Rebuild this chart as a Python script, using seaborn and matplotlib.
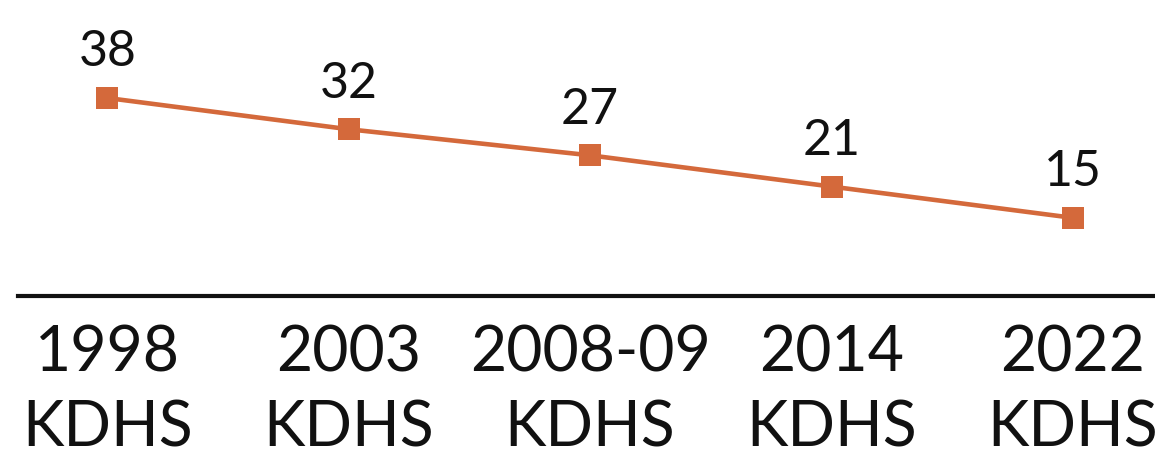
import matplotlib
matplotlib.use("Agg")
import matplotlib.pyplot as plt
import seaborn as sns
import pandas as pd

surveys = ["1998\nKDHS", "2003\nKDHS", "2008-09\nKDHS", "2014\nKDHS", "2022\nKDHS"]
values = [38, 32, 27, 21, 15]

sns.set_theme(style="white")
plt.rcParams['font.family'] = ['Lato', 'DejaVu Sans']

df = pd.DataFrame({"survey": surveys, "value": values})
df["pos"] = range(len(df))

fig = plt.figure(figsize=(11.55, 4.64), dpi=100)
ax = fig.add_axes([18 / 1155, 167 / 464, 1 - 18 / 1155, 297 / 464])

color = "#D4693B"
sns.lineplot(data=df, x="pos", y="value", ax=ax, color=color, linewidth=3.3,
             marker="s", markersize=16, markeredgewidth=0, sort=False)

for x, v in zip(df["pos"], df["value"]):
    ax.annotate(str(v), (x, v), xytext=(0, 17), textcoords="offset points",
                ha="center", va="bottom", fontsize=36, color="#111111")

ax.set_ylim(0, 57)
ax.set_xlim(-0.37, 4.34)
ax.set_xticks(df["pos"])
ax.set_xticklabels(df["survey"], fontsize=45, linespacing=1.36, color="#111111")
ax.tick_params(axis="x", length=0, pad=20)
ax.set_yticks([])
ax.set_xlabel("")
ax.set_ylabel("")
for s in ["top", "left", "right"]:
    ax.spines[s].set_visible(False)
ax.spines["bottom"].set_linewidth(3)
ax.spines["bottom"].set_color("#111111")

fig.savefig("out.png", dpi=100)
